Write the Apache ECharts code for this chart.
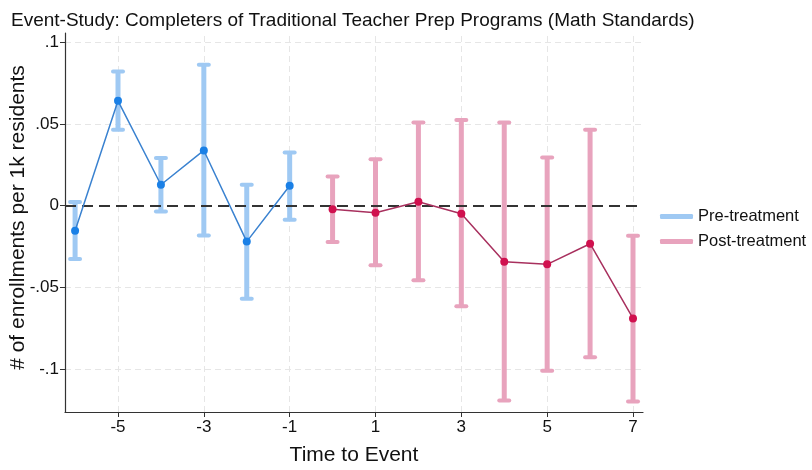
<!DOCTYPE html>
<html>
<head>
<meta charset="utf-8">
<script src="https://cdn.jsdelivr.net/npm/echarts@6/dist/echarts.min.js"></script>
<style>html,body{margin:0;padding:0;background:#fff}#c{width:812px;height:470px}</style>
</head>
<body>
<div id="c"></div>
<script>
// ---- data ----
const preTimes = [-6, -5, -4, -3, -2, -1];
const preCoef  = [-0.0153, 0.0642, 0.0128, 0.0338, -0.0220, 0.0122];
const preLo    = [-0.0326, 0.0465, -0.0035, -0.0182, -0.0570, -0.0086];
const preHi    = [0.0023, 0.0821, 0.0292, 0.0862, 0.0128, 0.0326];

const postTimes = [0, 1, 2, 3, 4, 5, 6, 7];
const postCoef  = [-0.0022, -0.0043, 0.0024, -0.0050, -0.0343, -0.0359, -0.0233, -0.0690];
const postLo    = [-0.0222, -0.0365, -0.0457, -0.0616, -0.1193, -0.1010, -0.0928, -0.1198];
const postHi    = [0.0179, 0.0284, 0.0509, 0.0525, 0.0509, 0.0295, 0.0464, -0.0184];

const xTicks = [-5, -3, -1, 1, 3, 5, 7];
const yTicks = [-0.1, -0.05, 0, 0.05, 0.1];
const yTickLabels = ['-.1', '-.05', '0', '.05', '.1'];

const titleText = 'Event-Study: Completers of Traditional Teacher Prep Programs (Math Standards)';
const yName = '# of enrollments per 1k residents';
const xName = 'Time to Event';

// ---- chart ----
const FONT = 'Liberation Sans, Arial, Helvetica, sans-serif';
const preCI = '#9fc9f3';
const postCI = '#e8a3bd';

function ciRender(color) {
  return function (params, api) {
    const x = api.value(0), lo = api.value(1), hi = api.value(2);
    const a = api.coord([x, hi]);
    const b = api.coord([x, lo]);
    const w = 5;
    return {
      type: 'group',
      children: [
        { type: 'line', shape: { x1: a[0], y1: a[1], x2: b[0], y2: b[1] }, style: { stroke: color, lineWidth: 5 } },
        { type: 'line', shape: { x1: a[0] - w, y1: a[1], x2: a[0] + w, y2: a[1] }, style: { stroke: color, lineWidth: 4, lineCap: 'round' } },
        { type: 'line', shape: { x1: b[0] - w, y1: b[1], x2: b[0] + w, y2: b[1] }, style: { stroke: color, lineWidth: 4, lineCap: 'round' } }
      ]
    };
  };
}

const gridLine = { color: '#e6e6e6', type: [6, 4], width: 1 };

const chart = echarts.init(document.getElementById('c'), null, { renderer: 'canvas' });
chart.setOption({
  animation: false,
  backgroundColor: '#fff',
  textStyle: { fontFamily: FONT },
  title: {
    text: titleText, left: 6, top: 6,
    textStyle: { fontSize: 19, fontWeight: 'normal', color: '#111', fontFamily: FONT }
  },
  legend: {
    orient: 'vertical', left: 655, top: 203, itemGap: 8,
    itemWidth: 33, itemHeight: 5, icon: 'roundRect',
    textStyle: { fontSize: 16.5, color: '#111', fontFamily: FONT },
    data: ['Pre-treatment', 'Post-treatment']
  },
  grid: { left: 65, right: 169, top: 33, bottom: 58, containLabel: false, outerBoundsMode: 'none' },
  xAxis: {
    type: 'value', min: -6.235, max: 7.233,
    name: xName, nameLocation: 'middle', nameGap: 33, nameMoveOverlap: false,
    nameTextStyle: { fontSize: 21, color: '#111', fontFamily: FONT },
    axisLine: { show: true, onZero: false, lineStyle: { color: '#333', width: 1.2 } },
    axisTick: { show: true, customValues: xTicks, length: 5, lineStyle: { color: '#333' } },
    axisLabel: { customValues: xTicks, fontSize: 17, color: '#111', margin: 7, formatter: v => String(v) },
    splitLine: { show: false }
  },
  yAxis: {
    type: 'value', min: -0.1263, max: 0.1057,
    name: yName, nameLocation: 'middle', nameGap: 36, nameMoveOverlap: false,
    nameTextStyle: { fontSize: 21, color: '#111', fontFamily: FONT, padding: [0, 0, 0, 10] },
    axisLine: { show: true, onZero: false, lineStyle: { color: '#333', width: 1.2 } },
    axisTick: { show: true, customValues: yTicks, length: 5, lineStyle: { color: '#333' } },
    axisLabel: {
      customValues: yTicks, fontSize: 17, color: '#111', margin: 6,
      formatter: v => { const i = yTicks.findIndex(t => Math.abs(t - v) < 1e-9); return i >= 0 ? yTickLabels[i] : ''; }
    },
    splitLine: { show: false }
  },
  series: [
    {
      name: 'grid', type: 'line', data: [], silent: true, z: 0,
      markLine: {
        silent: true, z: 0, symbol: 'none', label: { show: false }, lineStyle: gridLine,
        data: xTicks.map(v => ({ xAxis: v })).concat(yTicks.filter(v => v !== 0).map(v => ({ yAxis: v })))
      }
    },
    {
      name: 'zero', type: 'line', data: [], silent: true, z: 5,
      markLine: {
        silent: true, z: 5, symbol: 'none', label: { show: false },
        lineStyle: { color: '#333', type: [11, 6], width: 1.8 },
        data: [{ yAxis: 0 }]
      }
    },
    {
      name: 'Pre-treatment', type: 'custom', z: 3,
      itemStyle: { color: preCI },
      renderItem: ciRender(preCI),
      data: preTimes.map((t, i) => [t, preLo[i], preHi[i]])
    },
    {
      name: 'Post-treatment', type: 'custom', z: 3,
      itemStyle: { color: postCI },
      renderItem: ciRender(postCI),
      data: postTimes.map((t, i) => [t, postLo[i], postHi[i]])
    },
    {
      name: 'preLine', type: 'line', z: 6,
      data: preTimes.map((t, i) => [t, preCoef[i]]),
      symbol: 'circle', symbolSize: 8,
      lineStyle: { color: '#3a82d0', width: 1.5 },
      itemStyle: { color: '#1a80e6' }
    },
    {
      name: 'postLine', type: 'line', z: 6,
      data: postTimes.map((t, i) => [t, postCoef[i]]),
      symbol: 'circle', symbolSize: 8,
      lineStyle: { color: '#a8305e', width: 1.5 },
      itemStyle: { color: '#d0104e' }
    }
  ]
});
</script>
</body>
</html>
